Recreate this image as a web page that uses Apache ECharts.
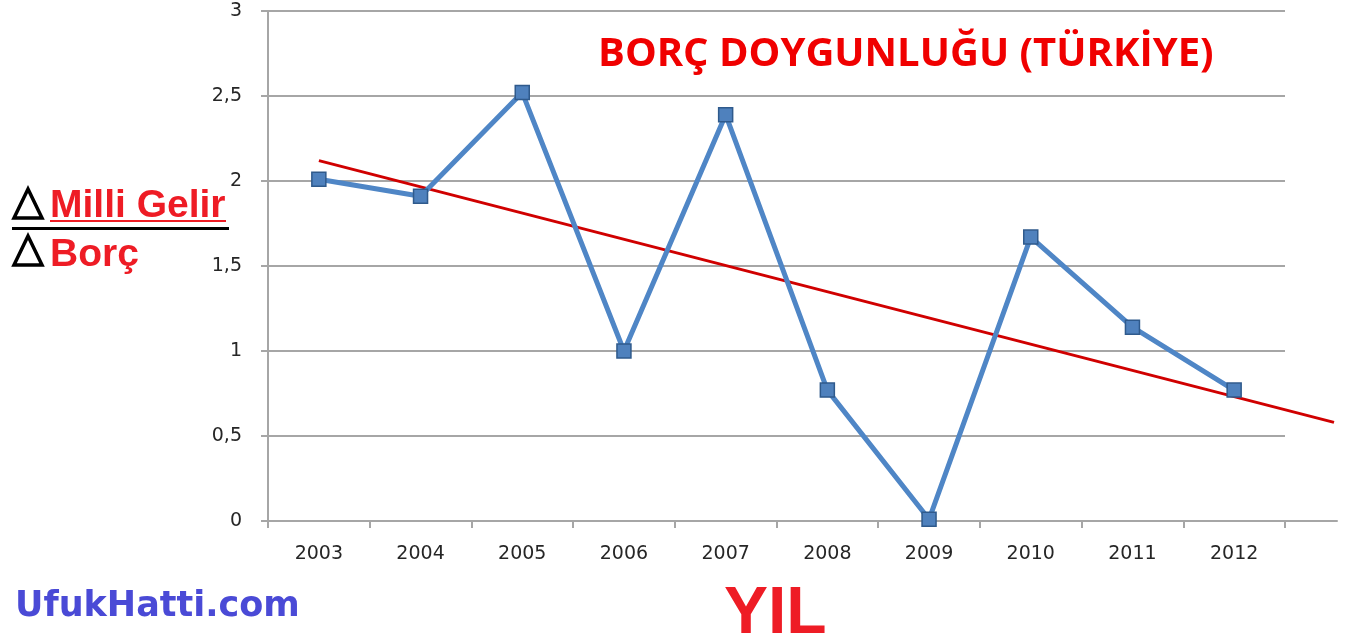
<!DOCTYPE html>
<html><head><meta charset="utf-8">
<script src="https://cdn.jsdelivr.net/npm/echarts@6/dist/echarts.min.js"></script>
<style>html,body{margin:0;padding:0;background:#fff}#c{width:1346px;height:644px}</style>
</head><body><div id="c"></div>
<script>
const years = ['2003','2004','2005','2006','2007','2008','2009','2010','2011','2012'];
const ratio = [2.01, 1.91, 2.52, 1.00, 2.39, 0.77, 0.01, 1.67, 1.14, 0.77];
const yTickLabels = {'0':'0','0.5':'0,5','1':'1','1.5':'1,5','2':'2','2.5':'2,5','3':'3'};
// trend line: [category position, value]
const trendPoints = [[0, 2.12], [9.97, 0.58]];

const chart = echarts.init(document.getElementById('c'), null, {renderer:'canvas'});
const gray = '#A6A6A6';
chart.setOption({
  animation:false,
  grid:[
    {left:268, right:61, top:11, bottom:123, containLabel:false},
    {left:268, right:9, top:11, bottom:123, containLabel:false}
  ],
  xAxis:[
    {type:'category', gridIndex:0, data:years, boundaryGap:true,
     axisLine:{lineStyle:{color:gray, width:2}},
     axisTick:{show:true, length:7, lineStyle:{color:gray, width:2}},
     axisLabel:{color:'#262626', fontSize:19, fontFamily:'"DejaVu Sans", Verdana', margin:24},
     splitLine:{show:false}},
    {type:'value', gridIndex:1, min:-0.5, max:9.97 + (1336-1333)/101.7,
     axisLine:{show:true, onZero:false, lineStyle:{color:gray, width:2}},
     axisTick:{show:false}, axisLabel:{show:false}, splitLine:{show:false}}
  ],
  yAxis:[
    {type:'value', gridIndex:0, min:0, max:3, interval:0.5,
     axisLine:{show:true, lineStyle:{color:gray, width:2}},
     axisTick:{show:true, length:7, lineStyle:{color:gray, width:2}},
     axisLabel:{color:'#262626', fontSize:19, fontFamily:'"DejaVu Sans", Verdana', margin:26,
       formatter:v=>yTickLabels[String(v)] ?? String(v).replace('.',',')},
     splitLine:{show:true, lineStyle:{color:gray, width:2}}},
    {type:'value', gridIndex:1, min:0, max:3, show:false}
  ],
  series:[
    {type:'line', xAxisIndex:1, yAxisIndex:1, data:trendPoints, showSymbol:false, symbol:'none',
     lineStyle:{color:'#D00000', width:3}, z:3},
    {type:'line', xAxisIndex:0, yAxisIndex:0, data:ratio, symbol:'rect', symbolSize:14,
     lineStyle:{color:'#4F86C6', width:5},
     itemStyle:{color:'#4F81BD', borderColor:'#2F5A8C', borderWidth:1.5}, z:4}
  ],
  graphic:[
    {type:'text', left:598, top:35, style:{text:'BORÇ DOYGUNLUĞU (TÜRKİYE)', fill:'#F00000',
      font:'bold 40px "Open Sans", sans-serif'}},
    {type:'polygon', shape:{points:[[14,218],[28,189],[42,218]]}, style:{fill:'none', stroke:'#000', lineWidth:3.5, lineJoin:'miter'}},
    {type:'text', left:50, top:187, style:{text:'Milli Gelir', fill:'#EE1C25', font:'bold 39px "Liberation Sans", Arial, sans-serif'}},
    {type:'rect', shape:{x:50, y:220, width:176, height:2}, style:{fill:'#EE1C25'}},
    {type:'rect', shape:{x:12, y:227, width:217, height:3}, style:{fill:'#000'}},
    {type:'polygon', shape:{points:[[14,265],[28,236],[42,265]]}, style:{fill:'none', stroke:'#000', lineWidth:3.5, lineJoin:'miter'}},
    {type:'text', left:50, top:236, style:{text:'Borç', fill:'#EE1C25', font:'bold 39px "Liberation Sans", Arial, sans-serif'}},
    {type:'text', left:15, top:589, style:{text:'UfukHatti.com', fill:'#4A4AD6', font:'bold 35px "DejaVu Sans", sans-serif'}},
    {type:'text', left:724, top:582, style:{text:'YIL', fill:'#EE1C25', font:'bold 66px "Liberation Sans", Arial, sans-serif'}}
  ]
});
</script></body></html>
